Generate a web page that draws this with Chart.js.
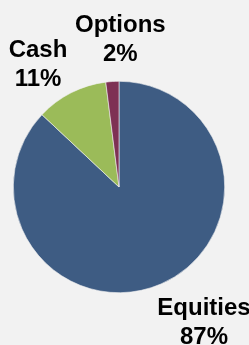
<!DOCTYPE html>
<html>
<head>
<meta charset="utf-8">
<script src="https://cdn.jsdelivr.net/npm/chart.js@4"></script>
<style>
  html, body { margin: 0; padding: 0; background: #f2f2f2; }
  #wrap { width: 249px; height: 345px; }
</style>
</head>
<body>
<div id="wrap"><canvas id="pie"></canvas></div>
<script>
const categories = ["Equities", "Cash", "Options"];
const shares = [87, 11, 2];
const sliceColors = ["#3e5c83", "#9bbb59", "#7e3154"];
// where each label block sits, relative to the outer edge at the slice middle
const labelShift = [[43, 39], [-33, -28], [8, -42]];

const outsideLabels = {
  id: "outsideLabels",
  afterDatasetsDraw(chart) {
    const c = chart.ctx;
    const arcs = chart.getDatasetMeta(0).data;
    c.save();
    c.font = "bold 24px 'Liberation Sans', Arial, sans-serif";
    c.fillStyle = "#000";
    c.textAlign = "center";
    c.textBaseline = "middle";
    arcs.forEach((arc, i) => {
      const mid = (arc.startAngle + arc.endAngle) / 2;
      const x = arc.x + Math.cos(mid) * arc.outerRadius + labelShift[i][0];
      const y = arc.y + Math.sin(mid) * arc.outerRadius + labelShift[i][1];
      c.fillText(categories[i], x, y - 14.5);
      c.fillText(shares[i] + "%", x, y + 14.5);
    });
    c.restore();
  },
};

new Chart(document.getElementById("pie"), {
  type: "pie",
  data: {
    labels: categories,
    datasets: [
      {
        data: shares,
        backgroundColor: sliceColors,
        borderColor: "#f2f2f2",
        borderWidth: 0.6,
      },
    ],
  },
  options: {
    responsive: true,
    maintainAspectRatio: false,
    animation: false,
    layout: { padding: { left: 13, right: 24, top: 81, bottom: 52 } },
    plugins: {
      legend: { display: false },
      tooltip: { enabled: false },
    },
  },
  plugins: [outsideLabels],
});
</script>
</body>
</html>
